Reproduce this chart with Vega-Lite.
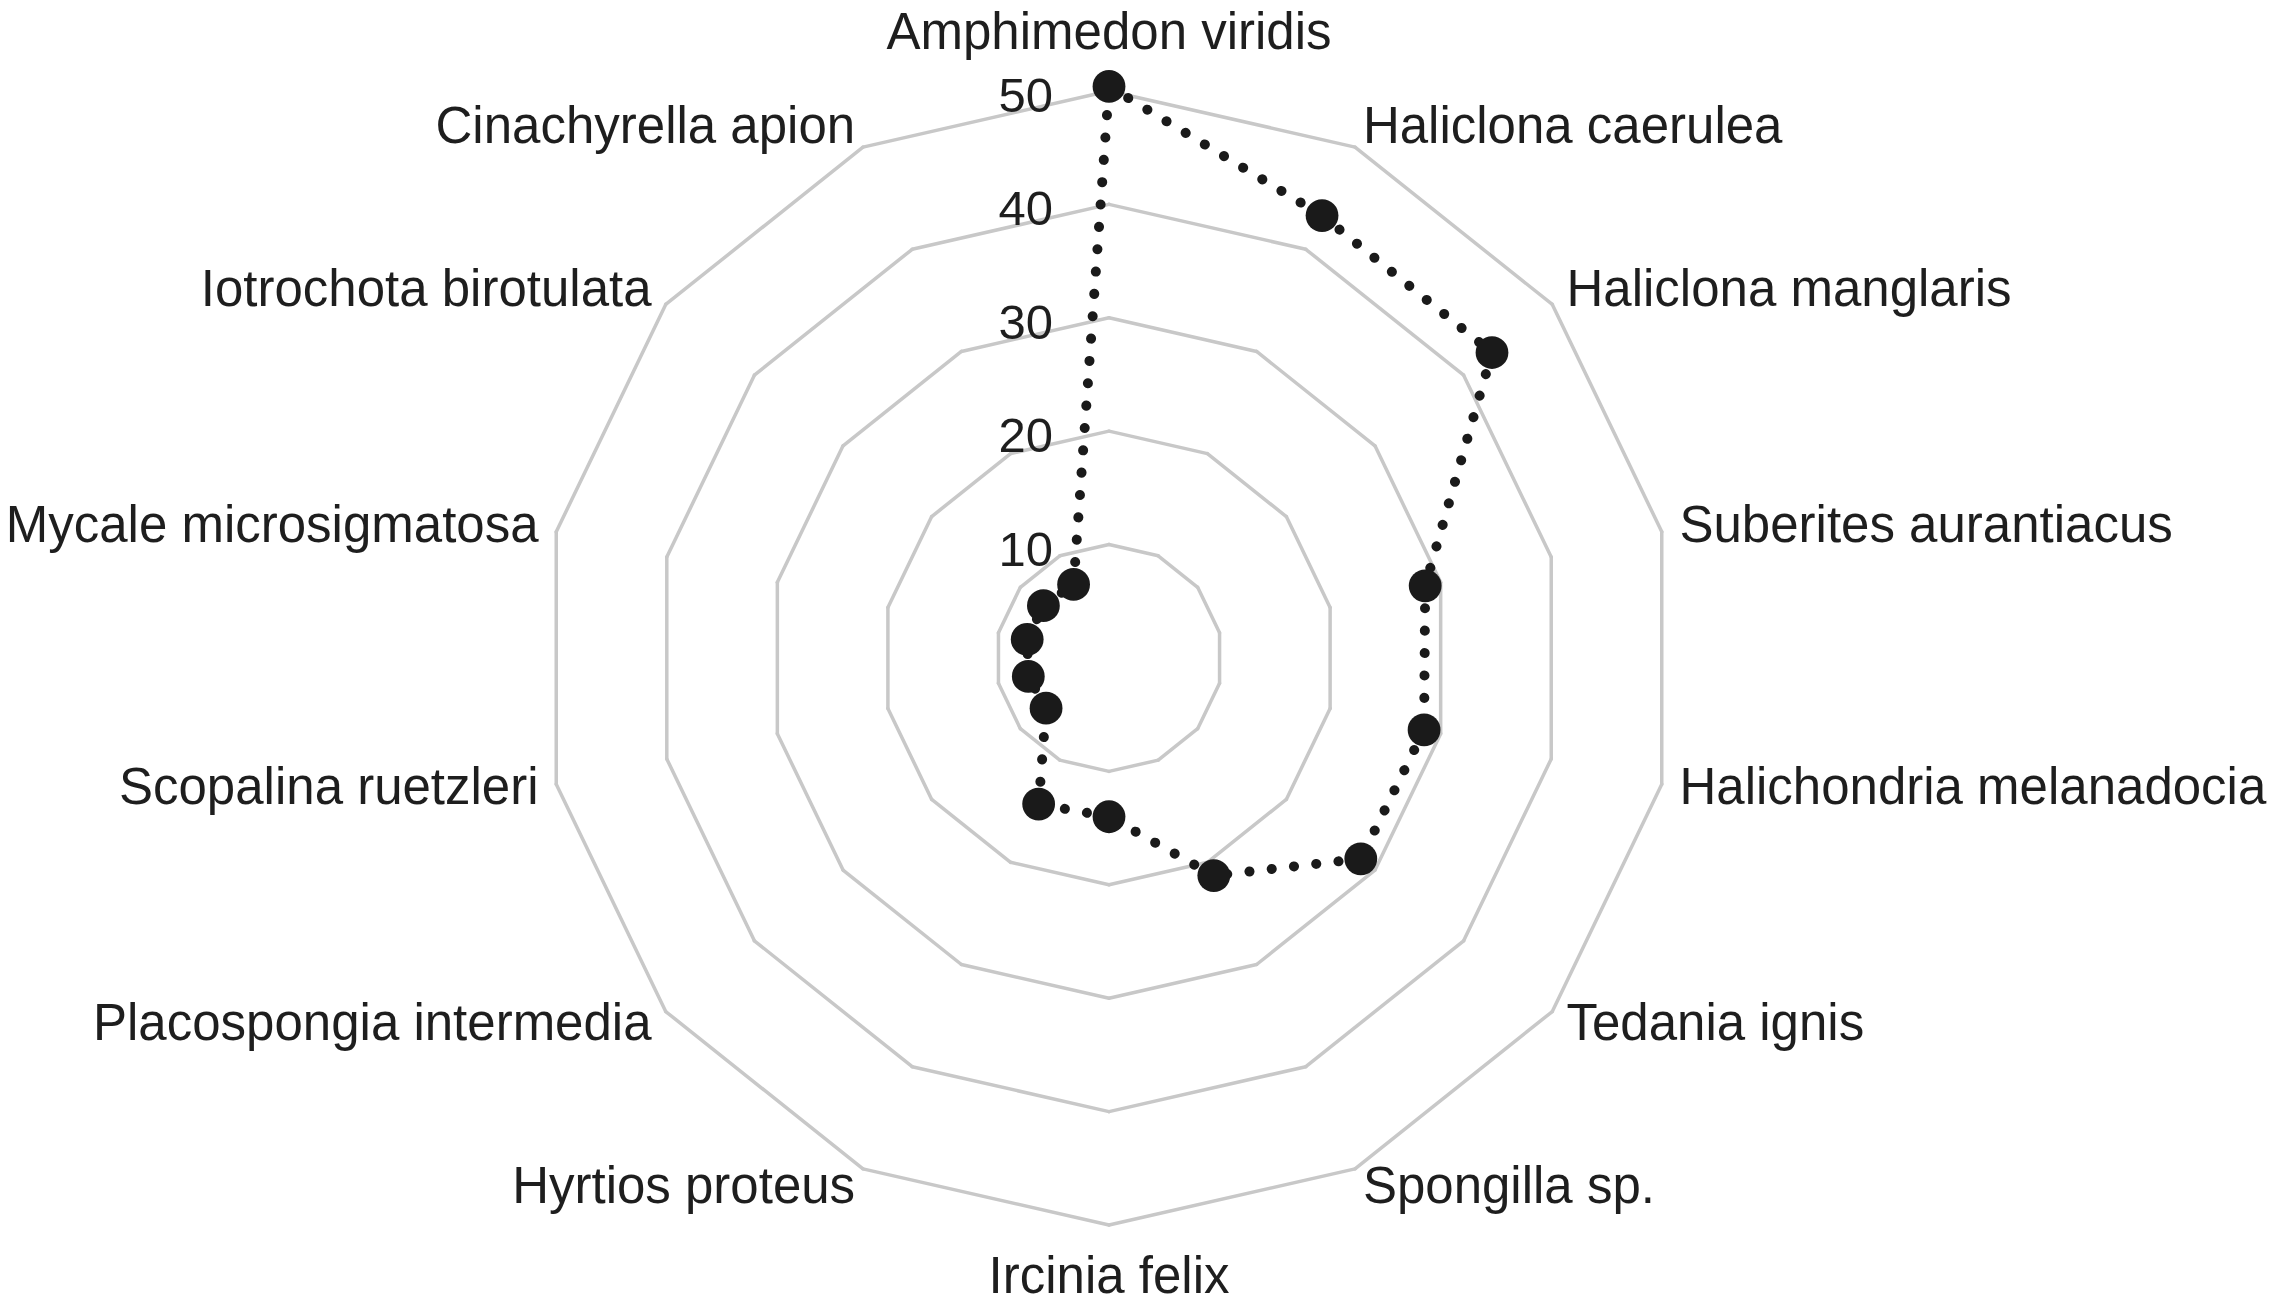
{
  "$schema": "https://vega.github.io/schema/vega-lite/v6.json",
  "width": 2278,
  "height": 1307,
  "autosize": "none",
  "padding": 0,
  "background": "white",
  "config": {"view": {"stroke": null}},
  "datasets": {
    "species": [
      {"species": "Amphimedon viridis", "i": 0, "value": 50.4},
      {"species": "Haliclona caerulea", "i": 1, "value": 43.3},
      {"species": "Haliclona manglaris", "i": 2, "value": 43.2},
      {"species": "Suberites aurantiacus", "i": 3, "value": 28.6},
      {"species": "Halichondria melanadocia", "i": 4, "value": 28.5},
      {"species": "Tedania ignis", "i": 5, "value": 28.4},
      {"species": "Spongilla sp.", "i": 6, "value": 21.3},
      {"species": "Ircinia felix", "i": 7, "value": 14.0},
      {"species": "Hyrtios proteus", "i": 8, "value": 14.3},
      {"species": "Placospongia intermedia", "i": 9, "value": 7.1},
      {"species": "Scopalina ruetzleri", "i": 10, "value": 7.3},
      {"species": "Mycale microsigmatosa", "i": 11, "value": 7.4},
      {"species": "Iotrochota birotulata", "i": 12, "value": 7.4},
      {"species": "Cinachyrella apion", "i": 13, "value": 7.2}
    ],
    "rings": [{"ring": 10}, {"ring": 20}, {"ring": 30}, {"ring": 40}, {"ring": 50}]
  },
  "layer": [
    {
      "data": {"name": "species"},
      "transform": [
        {"calculate": "[10, 20, 30, 40, 50]", "as": "ring"},
        {"flatten": ["ring"]},
        {"calculate": "datum.i * 2 * PI / 14", "as": "a0"},
        {"calculate": "(datum.i + 1) * 2 * PI / 14", "as": "a1"},
        {"calculate": "datum.ring * sin(datum.a0)", "as": "gx"},
        {"calculate": "datum.ring * cos(datum.a0)", "as": "gy"},
        {"calculate": "datum.ring * sin(datum.a1)", "as": "gx2"},
        {"calculate": "datum.ring * cos(datum.a1)", "as": "gy2"}
      ],
      "mark": {"type": "rule", "stroke": "#c8c8c8", "strokeWidth": 3.5, "strokeCap": "round"},
      "encoding": {
        "x": {"field": "gx", "type": "quantitative", "axis": null, "scale": {"domain": [-97.8, 103.09], "nice": false, "zero": false}},
        "y": {"field": "gy", "type": "quantitative", "axis": null, "scale": {"domain": [-57.23, 58.02], "nice": false, "zero": false}},
        "x2": {"field": "gx2"},
        "y2": {"field": "gy2"}
      }
    },
    {
      "data": {"name": "species"},
      "transform": [
        {"window": [{"op": "lead", "field": "value", "as": "nv"}, {"op": "first_value", "field": "value", "as": "fv"}], "sort": [{"field": "i"}], "frame": [null, null]},
        {"calculate": "isValid(datum.nv) ? datum.nv : datum.fv", "as": "nval"},
        {"calculate": "datum.i * 2 * PI / 14", "as": "a0"},
        {"calculate": "(datum.i + 1) * 2 * PI / 14", "as": "a1"},
        {"calculate": "datum.value * sin(datum.a0)", "as": "px"},
        {"calculate": "datum.value * cos(datum.a0)", "as": "py"},
        {"calculate": "datum.nval * sin(datum.a1)", "as": "px2"},
        {"calculate": "datum.nval * cos(datum.a1)", "as": "py2"}
      ],
      "mark": {"type": "rule", "stroke": "#1a1a1a", "strokeWidth": 10, "strokeCap": "round", "strokeDash": [0.1, 22.3]},
      "encoding": {
        "x": {"field": "px", "type": "quantitative", "axis": null},
        "y": {"field": "py", "type": "quantitative", "axis": null},
        "x2": {"field": "px2"},
        "y2": {"field": "py2"}
      }
    },
    {
      "data": {"name": "species"},
      "transform": [
        {"calculate": "datum.i * 2 * PI / 14", "as": "a0"},
        {"calculate": "datum.value * sin(datum.a0)", "as": "px"},
        {"calculate": "datum.value * cos(datum.a0)", "as": "py"}
      ],
      "mark": {"type": "point", "shape": "circle", "filled": true, "size": 1075, "color": "#1a1a1a", "opacity": 1},
      "encoding": {
        "x": {"field": "px", "type": "quantitative", "axis": null},
        "y": {"field": "py", "type": "quantitative", "axis": null}
      }
    },
    {
      "data": {"name": "rings"},
      "mark": {"type": "text", "align": "right", "baseline": "middle", "dx": -56, "dy": 6, "fontSize": 49, "font": "Liberation Sans", "color": "#1e1e1e"},
      "encoding": {
        "x": {"datum": 0, "type": "quantitative", "axis": null},
        "y": {"field": "ring", "type": "quantitative", "axis": null},
        "text": {"field": "ring", "type": "quantitative"}
      }
    },
    {
      "data": {"name": "species"},
      "transform": [
        {"filter": "datum.i >= 1 && datum.i <= 6"},
        {"calculate": "datum.i * 2 * PI / 14", "as": "a0"},
        {"calculate": "51.6 * sin(datum.a0)", "as": "lx"},
        {"calculate": "51.9 * cos(datum.a0)", "as": "ly"}
      ],
      "mark": {"type": "text", "align": "left", "baseline": "middle", "fontSize": 51, "font": "Liberation Sans", "color": "#1e1e1e"},
      "encoding": {
        "x": {"field": "lx", "type": "quantitative", "axis": null},
        "y": {"field": "ly", "type": "quantitative", "axis": null},
        "text": {"field": "species", "type": "nominal"}
      }
    },
    {
      "data": {"name": "species"},
      "transform": [
        {"filter": "datum.i >= 8"},
        {"calculate": "datum.i * 2 * PI / 14", "as": "a0"},
        {"calculate": "51.6 * sin(datum.a0)", "as": "lx"},
        {"calculate": "51.9 * cos(datum.a0)", "as": "ly"}
      ],
      "mark": {"type": "text", "align": "right", "baseline": "middle", "fontSize": 51, "font": "Liberation Sans", "color": "#1e1e1e"},
      "encoding": {
        "x": {"field": "lx", "type": "quantitative", "axis": null},
        "y": {"field": "ly", "type": "quantitative", "axis": null},
        "text": {"field": "species", "type": "nominal"}
      }
    },
    {
      "data": {"name": "species"},
      "transform": [
        {"filter": "datum.i == 0 || datum.i == 7"},
        {"calculate": "datum.i == 0 ? 53.7 : -56.0", "as": "ly"}
      ],
      "mark": {"type": "text", "align": "center", "baseline": "alphabetic", "fontSize": 51, "font": "Liberation Sans", "color": "#1e1e1e"},
      "encoding": {
        "x": {"datum": 0, "type": "quantitative", "axis": null},
        "y": {"field": "ly", "type": "quantitative", "axis": null},
        "text": {"field": "species", "type": "nominal"}
      }
    }
  ]
}
